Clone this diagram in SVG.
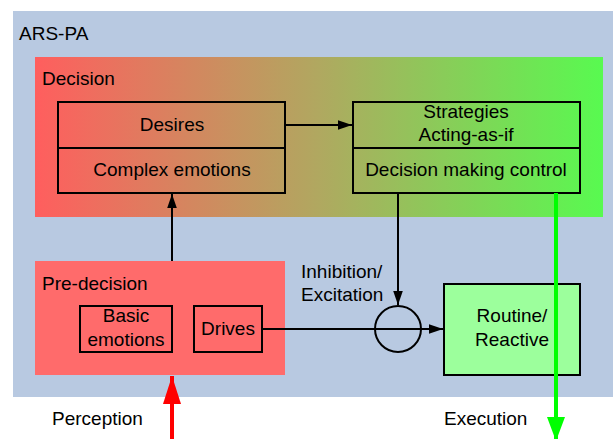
<svg xmlns="http://www.w3.org/2000/svg" width="613" height="439" viewBox="0 0 613 439">
<defs>
<linearGradient id="dg" x1="0" y1="0" x2="1" y2="0">
<stop offset="0" stop-color="#FF5E5E"/>
<stop offset="0.5" stop-color="#B0A860"/>
<stop offset="1" stop-color="#58FA50"/>
</linearGradient>
<marker id="ab" viewBox="0 0 10 10" refX="10" refY="5" markerWidth="14" markerHeight="12" markerUnits="userSpaceOnUse" orient="auto" preserveAspectRatio="none">
<path d="M0,1 L10,5 L0,9 Z" fill="#000"/>
</marker>
<marker id="ar" viewBox="0 0 10 10" refX="10" refY="5" markerWidth="28" markerHeight="18" markerUnits="userSpaceOnUse" orient="auto" preserveAspectRatio="none">
<path d="M0,0 L10,5 L0,10 Z" fill="#FF0000"/>
</marker>
<marker id="ag" viewBox="0 0 10 10" refX="10" refY="5" markerWidth="24" markerHeight="18" markerUnits="userSpaceOnUse" orient="auto" preserveAspectRatio="none">
<path d="M0,0 L10,5 L0,10 Z" fill="#00FF00"/>
</marker>
</defs>
<style>
text{font-family:"Liberation Sans",Arial,sans-serif;font-size:19px;fill:#000}
.c{text-anchor:middle}
.box{fill:none;stroke:#000;stroke-width:2}
.ln{stroke:#000;stroke-width:2;fill:none}
</style>
<rect width="613" height="439" fill="#fff"/>
<g id="ars-pa">
<rect x="13" y="11" width="600" height="386" fill="#B8C9E1"/>
<text x="19" y="40">ARS-PA</text>
</g>
<g id="decision">
<rect x="35" y="57" width="568" height="160" fill="url(#dg)"/>
<text x="42" y="85">Decision</text>
</g>
<g id="desires">
<rect class="box" x="58" y="102" width="227" height="91"/>
<line class="ln" x1="58" y1="148" x2="285" y2="148"/>
<text class="c" x="172" y="131">Desires</text>
<text class="c" x="172" y="176">Complex emotions</text>
</g>
<g id="strategies">
<rect class="box" x="353" y="102" width="227" height="91"/>
<line class="ln" x1="353" y1="148" x2="580" y2="148"/>
<text class="c" x="466" y="118">Strategies</text>
<text class="c" x="466" y="141">Acting-as-if</text>
<text class="c" x="466" y="176">Decision making control</text>
</g>
<g id="pre-decision">
<rect x="35" y="261" width="250" height="114" fill="#FF6B6B"/>
<text x="42" y="290">Pre-decision</text>
</g>
<g id="basic-emotions">
<rect class="box" x="80" y="306" width="92" height="46"/>
<text class="c" x="126" y="322">Basic</text>
<text class="c" x="126" y="346">emotions</text>
</g>
<g id="drives">
<rect class="box" x="194" y="306" width="68" height="46"/>
<text class="c" x="228" y="335">Drives</text>
</g>
<g id="routine">
<rect x="444" y="284" width="136" height="91" fill="#9CFF9C" stroke="#000" stroke-width="2"/>
<text class="c" x="512" y="322">Routine/</text>
<text class="c" x="512" y="346">Reactive</text>
</g>
<g id="junction">
<circle cx="398" cy="329" r="23" fill="none" stroke="#000" stroke-width="2"/>
<text x="301" y="278">Inhibition/</text>
<text x="301" y="301">Excitation</text>
</g>
<g id="connectors">
<line class="ln" x1="285" y1="125" x2="352" y2="125" marker-end="url(#ab)"/>
<line class="ln" x1="172" y1="261" x2="172" y2="194" marker-end="url(#ab)"/>
<line class="ln" x1="398" y1="193" x2="398" y2="305" marker-end="url(#ab)"/>
<line class="ln" x1="262" y1="329" x2="443" y2="329" marker-end="url(#ab)"/>
<line x1="172" y1="439" x2="172" y2="376" stroke="#FF0000" stroke-width="4" marker-end="url(#ar)"/>
<line x1="556" y1="193" x2="556" y2="441" stroke="#00FF00" stroke-width="4" marker-end="url(#ag)"/>
<text x="52" y="425">Perception</text>
<text x="444" y="425">Execution</text>
</g>
</svg>
